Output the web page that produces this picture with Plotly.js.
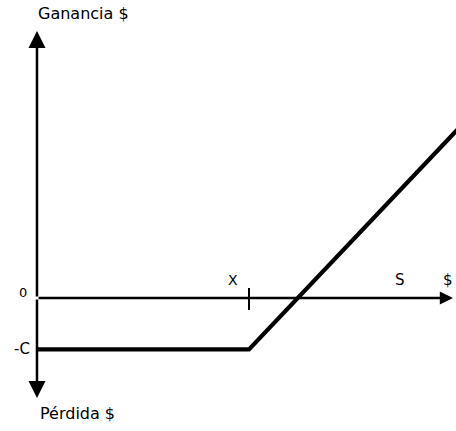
<!DOCTYPE html>
<html>
<head>
<meta charset="utf-8">
<script src="https://cdn.plot.ly/plotly-3.0.1.min.js"></script>
<style>
  html, body { margin: 0; padding: 0; background: #ffffff; }
  #chart { width: 456px; height: 431px; }
</style>
</head>
<body>
<div id="chart"></div>
<script>
// Long call option: profit / loss at expiry against the underlying price
var strikePrice = 100;          // X
var premium = 23;               // C
var spotLabelAt = 171;          // position of the "S" label on the price axis
var underlyingPrices = [0, 100, 200];
var profitValues = [-23, -23, 77];

// Extent of the drawn axes (data units)
var priceAxisEnd = 196.2;
var profitAxisTop = 119.5;
var profitAxisBottom = -44.7;

var ink = '#000000';
var font = { family: 'DejaVu Sans, sans-serif', size: 15, color: ink };

var payoff = {
  x: underlyingPrices,
  y: profitValues,
  type: 'scatter',
  mode: 'lines',
  line: { color: ink, width: 4.2 },
  hoverinfo: 'skip'
};

function axisArrow(x, y, size) {
  return {
    x: x, y: y, xref: 'x', yref: 'y',
    ax: 0, ay: 0, axref: 'x', ayref: 'y',
    text: '', showarrow: true,
    arrowhead: 2, arrowsize: size, arrowwidth: 2.5, arrowcolor: ink,
    standoff: 0
  };
}

function label(text, opts) {
  var a = {
    text: text, showarrow: false, font: Object.assign({}, font, opts.font || {}),
    xanchor: 'center', yanchor: 'middle'
  };
  return Object.assign(a, opts, { font: a.font });
}

var annotations = [
  axisArrow(0, profitAxisTop, 1.36),
  axisArrow(0, profitAxisBottom, 1.36),
  axisArrow(priceAxisEnd, 0, 1.05),
  label('Ganancia $', { xref: 'paper', yref: 'paper', x: 83 / 456, y: 1 - 14 / 431, font: { size: 16 } }),
  label('Pérdida $', { xref: 'paper', yref: 'paper', x: 77 / 456, y: 1 - 413 / 431, font: { size: 16 } }),
  label('0', { xref: 'paper', yref: 'y', x: 23 / 456, y: 0, yshift: 5, font: { size: 13 } }),
  label('-C', { xref: 'paper', yref: 'y', x: 22 / 456, y: -premium }),
  label('X', { xref: 'x', yref: 'y', x: strikePrice, y: 0, xshift: -16, yshift: 18, font: { size: 14 } }),
  label('S', { xref: 'x', yref: 'y', x: spotLabelAt, y: 0, yshift: 18 }),
  label('$', { xref: 'x', yref: 'y', x: priceAxisEnd, y: 0, xshift: -5, yshift: 18 })
];

var shapes = [
  {
    type: 'line', xref: 'x', yref: 'y',
    x0: strikePrice, x1: strikePrice,
    ysizemode: 'pixel', yanchor: 0, y0: -12, y1: 10,
    line: { color: ink, width: 2 }
  }
];

var layout = {
  width: 456, height: 431,
  margin: { l: 0, r: 0, t: 0, b: 0 },
  paper_bgcolor: '#ffffff', plot_bgcolor: '#ffffff',
  showlegend: false,
  xaxis: { range: [-17.45, 197.64], visible: false, fixedrange: true },
  yaxis: { range: [-59.51, 133.33], visible: false, fixedrange: true },
  annotations: annotations,
  shapes: shapes
};

Plotly.newPlot('chart', [payoff], layout, { staticPlot: true, displayModeBar: false });
</script>
</body>
</html>
